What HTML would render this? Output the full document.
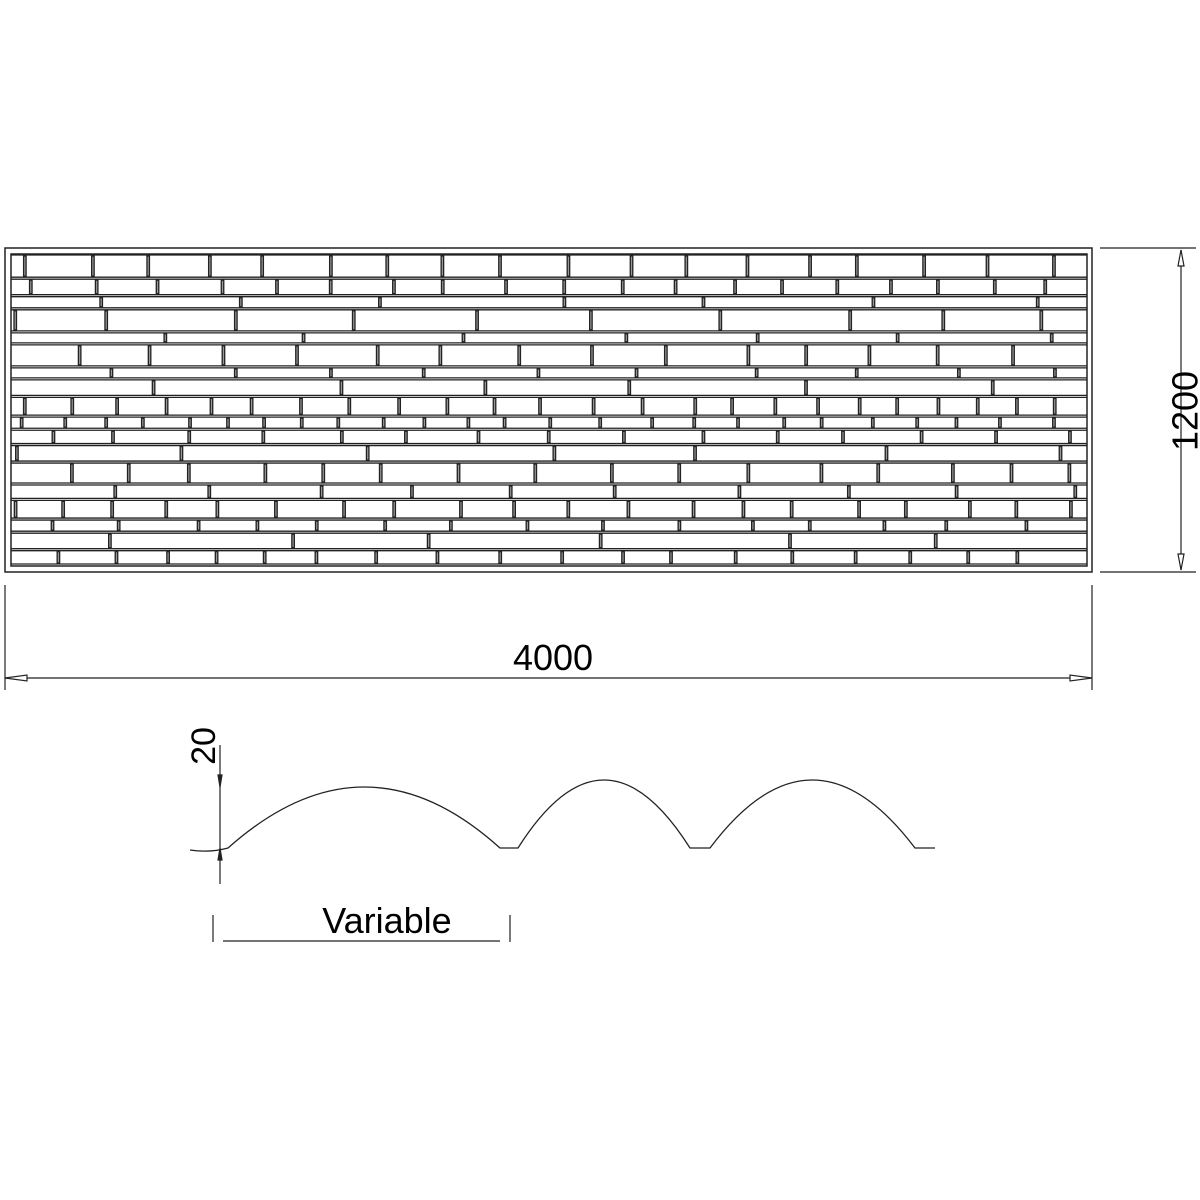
<!DOCTYPE html>
<html><head><style>html,body{margin:0;background:#fff}svg{display:block}</style></head>
<body>
<svg id="s" width="1200" height="1200" xmlns="http://www.w3.org/2000/svg" font-family="'Liberation Sans',sans-serif">
<rect x="5" y="248" width="1087" height="324" fill="none" stroke="#222" stroke-width="1.5"/>
<rect x="11" y="254" width="1076" height="312" fill="none" stroke="#222" stroke-width="1.5"/>
<g id="br" stroke="#222" stroke-width="1.3" fill="none"></g>
<g stroke="#222" stroke-width="1.2" fill="none">
<line x1="1100" y1="248" x2="1196" y2="248"/><line x1="1100" y1="572" x2="1196" y2="572"/>
<line x1="1181" y1="250" x2="1181" y2="570"/>
<path d="M1181 250 l-3 16 h6 z M1181 570 l-3 -16 h6 z" fill="#fff"/>
<line x1="5" y1="585" x2="5" y2="690"/><line x1="1092" y1="585" x2="1092" y2="690"/>
<line x1="5" y1="678" x2="1092" y2="678"/>
<path d="M5 678 l22 -3 v6 z M1092 678 l-22 -3 v6 z" fill="#fff"/>
<path d="M190 850 Q210 853 228 848 Q365 726 500 848 H518 Q604 712 690 848 H710 Q812 712 915 848 H935" stroke-width="1.3"/>
<line x1="220" y1="745" x2="220" y2="884"/>
<path d="M220 787 l-2 -12 h4 z M220 848 l-2 12 h4 z" fill="#222"/>
<line x1="223" y1="941" x2="500" y2="941"/>
<line x1="213" y1="915" x2="213" y2="942"/><line x1="510" y1="915" x2="510" y2="942"/>
</g>
<text x="1188" y="411" font-size="36" text-anchor="middle" transform="rotate(-90 1188 411)" dominant-baseline="middle">1200</text>
<text x="553" y="670" font-size="36" text-anchor="middle">4000</text>
<text x="215" y="746" font-size="34" text-anchor="middle" transform="rotate(-90 215 746)">20</text>
<text x="387" y="933" font-size="36" text-anchor="middle">Variable</text>
</svg>
<script>
var g=document.getElementById('br'),ns='http://www.w3.org/2000/svg';
var h=[20,14,10,19,9,19,9,14,16,10,12,14,18,12,16,10,14,12];
var gap=2,tot=0;for(var k=0;k<h.length;k++)tot+=h[k]+gap;
var sc=(566-255-gap*h.length)/(tot-gap*h.length);
var y=255,seed=3;function r(){seed=(seed*9301+49297)%233280;return seed/233280;}
var steps=[45,58,70,110,160];
for(var i=0;i<h.length;i++){var hh=h[i]*sc;
 var l=document.createElementNS(ns,'line');l.setAttribute('x1',11);l.setAttribute('x2',1087);l.setAttribute('y1',y);l.setAttribute('y2',y);g.appendChild(l);
 var l2=document.createElementNS(ns,'line');l2.setAttribute('x1',11);l2.setAttribute('x2',1087);l2.setAttribute('y1',y+hh);l2.setAttribute('y2',y+hh);g.appendChild(l2);
 var st=steps[Math.floor(r()*steps.length)];var x=11+r()*st;
 while(x<1080){var p=document.createElementNS(ns,'rect');p.setAttribute('x',x);p.setAttribute('y',y+1);p.setAttribute('width',2.5);p.setAttribute('height',Math.max(hh-2,1));p.setAttribute('fill','#999');g.appendChild(p);x+=st*(0.8+r()*0.4);}
 y+=hh+gap;}
</script>
</body></html>
